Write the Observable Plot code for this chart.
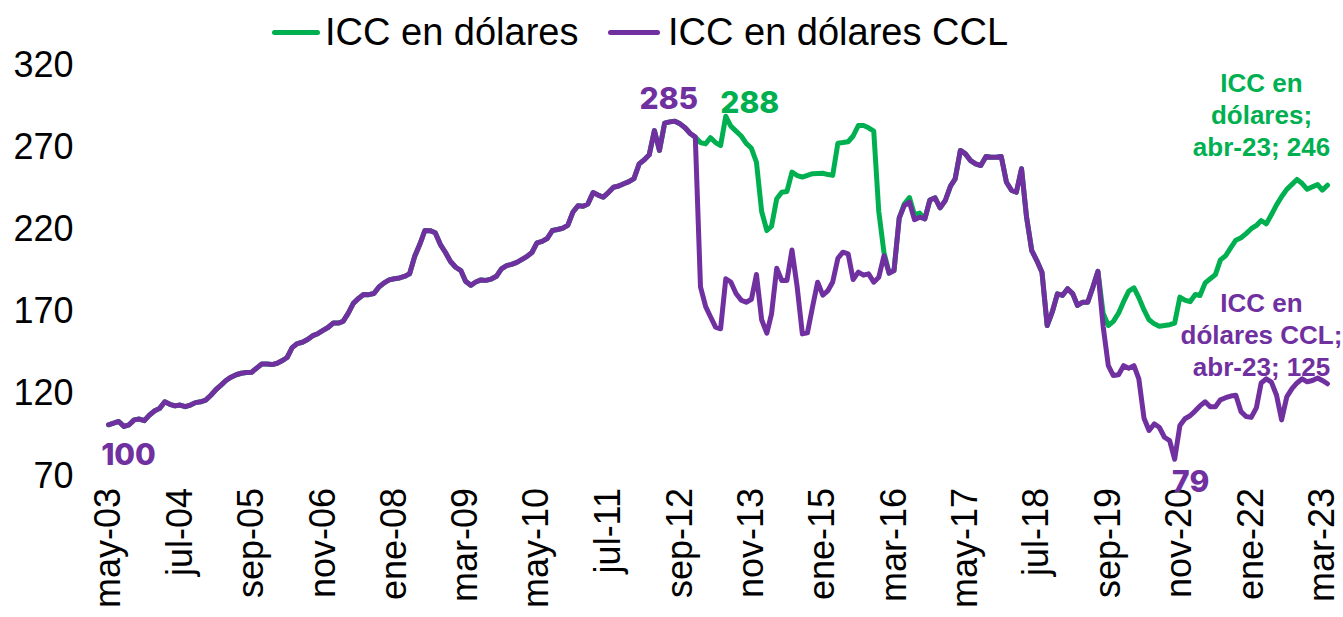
<!DOCTYPE html>
<html><head><meta charset="utf-8">
<script src="https://cdn.jsdelivr.net/npm/d3@7"></script>
<script src="https://cdn.jsdelivr.net/npm/@observablehq/plot@0.6"></script>
<style>
body{margin:0;background:#fff;font-family:"Liberation Sans",Arial,sans-serif;}
#legend{position:relative;width:1343px;height:50px;}
.item{position:absolute;top:12px;height:40px;display:flex;align-items:center;font-size:38px;color:#000;white-space:nowrap;}
.sw{display:inline-block;height:5px;border-radius:3px;}
</style></head><body>
<div id="legend"></div>
<div id="chart"></div>
<script>
// Series: ICC en dólares CCL (monthly, may-03 .. abr-23)
const iccCCL = [
 100,101,102,99,100,103,103.5,102.5,106,108.5,110,114,
 112.5,111.5,112,111,112,113.5,114,115,118,121.5,124,127,
 129,130.5,131.4,131.8,132,134.5,137,137,136.7,137.5,139,141,
 147,149.5,150.3,152,154.3,155.5,157.5,159.3,162,162,163,168,
 174,177,179.4,179.3,180,184,186.5,188.3,189,189.5,190.4,192,
 202.5,210,218.4,218.3,217,210,205,199.5,196,194,187.5,185,
 187,188.3,188,188.8,190.5,195,197,197.8,199,200.8,202.5,205,
 210.9,211.8,213.5,218.4,219,219.8,221.5,229.5,233.5,233.2,234.5,241.5,
 240,238.7,241.5,244.8,245.5,246.9,248.2,250,259,261.5,264.5,279.3,
 267.2,283.8,284.6,285,283.4,281,277.5,275.3,184,172,166,159.5,
 158.5,189,187,180,176,174.7,176.5,191.6,164,155.8,167.6,195.4,
 187.9,188,206.5,184,155.4,156,172,186.9,179,181.8,187,201.5,
 205.2,204.2,188.5,193,191.2,192,186.9,189.9,203,192.4,194,226,
 233.6,235.7,225,226.5,225.5,237,238.3,232.2,236.7,245.5,249.9,267.2,
 265.1,261,259,258,263.5,263,263,263.5,247.8,242.8,241.7,256,
 226.5,206.2,200.1,193,160.5,168.6,179.8,178.8,182.9,179.8,172.7,174.7,
 174.7,183.9,193.5,160,136,130,130.5,136,134.5,136,128,104,
 96.5,100.5,98.5,92.4,90.4,79,99.5,103.7,105.5,108.5,111.5,114,
 111,111,115.2,116.5,117.5,118,108,105,104.5,110.5,125.5,128,
 126,118,103,117,122,125.5,128,126.2,127,128.5,127,125
];
// Series: ICC en dólares (monthly, may-03 .. abr-23)
const iccUSD = [
 100,101,102,99,100,103,103.5,102.5,106,108.5,110,114,
 112.5,111.5,112,111,112,113.5,114,115,118,121.5,124,127,
 129,130.5,131.4,131.8,132,134.5,137,137,136.7,137.5,139,141,
 147,149.5,150.3,152,154.3,155.5,157.5,159.3,162,162,163,168,
 174,177,179.4,179.3,180,184,186.5,188.3,189,189.5,190.4,192,
 202.5,210,218.4,218.3,217,210,205,199.5,196,194,187.5,185,
 187,188.3,188,188.8,190.5,195,197,197.8,199,200.8,202.5,205,
 210.9,211.8,213.5,218.4,219,219.8,221.5,229.5,233.5,233.2,234.5,241.5,
 240,238.7,241.5,244.8,245.5,246.9,248.2,250,259,261.5,264.5,279.3,
 267.2,283.8,284.6,285,283.4,281,277.5,275.3,272,271.2,275,272,
 270.2,288,282,279,276,271.5,268.5,260,230,218.4,221,237.7,
 241.7,242.2,254,251.9,251,252,253,253.2,253.3,252.5,252,271.6,
 272,272.5,276,282.4,282.4,281,279,230,205,192.4,194,226,
 234.5,238.5,228,229,225.5,237,238.3,232.2,236.7,245.5,249.9,267.2,
 265.1,261,259,258,263.5,263,263,263.5,247.8,242.8,241.7,256,
 226.5,206.2,200.1,193,160.5,168.6,179.8,178.8,182.9,179.8,172.7,174.7,
 174.7,183.9,193.5,168,160.5,163,168,175,181.5,183.5,177.5,170,
 164,161.5,160,160.5,161,162,177.8,176,175,179.4,178.8,186.5,
 189,191.5,200.5,203,208,212.5,214,216.5,219.5,221.5,224.5,222.5,
 228,234,239,243.5,246.5,249.5,247,243.5,245,246.4,243,246
];
const tickLabels = ["may-03","jul-04","sep-05","nov-06","ene-08","mar-09","may-10","jul-11","sep-12",
  "nov-13","ene-15","mar-16","may-17","jul-18","sep-19","nov-20","ene-22","mar-23"];
const yTicks = [70,120,170,220,270,320];
const seriesNames = ["ICC en dólares","ICC en dólares CCL"];
const colors = ["#00B050","#7030A0"];

const startDate = new Date(Date.UTC(2003,4,1));
const months = d3.utcMonth.range(startDate, new Date(Date.UTC(2023,4,1)));
const tickDates = tickLabels.map((_, k) => d3.utcMonth.offset(startDate, 14*k));
const labelOf = new Map(tickDates.map((d,k)=>[+d, tickLabels[k]]));

const usdData = months.map((d,i)=>({date:d, value:iccUSD[i]}));
const cclData = months.map((d,i)=>({date:d, value:iccCCL[i]}));
const last = months.length - 1;

// legend
const legend = document.getElementById("legend");
[[272,48,5],[608,52,8]].forEach(([left,w,gap],k)=>{
  const it = document.createElement("div");
  it.className="item"; it.style.left=left+"px";
  it.innerHTML = `<span class="sw" style="width:${w}px;background:${colors[k]};margin-right:${gap}px"></span><span>${seriesNames[k]}</span>`;
  legend.appendChild(it);
});

const labelFont = "Inter, 'Noto Sans', sans-serif";
const chart = Plot.plot({
  width: 1343, height: 567,
  marginLeft: 108, marginRight: 16, marginTop: 13.3, marginBottom: 143.5,
  style: {fontFamily: "'Liberation Sans', Arial, sans-serif", color: "#000", background: "#fff", overflow: "visible"},
  x: {type: "utc", domain: [months[0], months[last]]},
  y: {domain: [70, 320]},
  marks: [
    Plot.axisY({ticks: yTicks, tickSize: 0, tickPadding: 35, fontSize: 36, dy: 2, label: null}),
    Plot.axisX({ticks: tickDates, tickFormat: d => labelOf.get(+d), tickSize: 0, tickPadding: 14, tickRotate: -90, fontSize: 36, label: null}),
    Plot.lineY(usdData, {x: "date", y: "value", stroke: colors[0], strokeWidth: 5}),
    Plot.lineY(cclData, {x: "date", y: "value", stroke: colors[1], strokeWidth: 5}),
    Plot.text([cclData[0]], {x: "date", y: "value", text: d => String(Math.round(d.value)), dx: 20, dy: 31, fill: colors[1], fontSize: 30, fontWeight: 800, fontFamily: labelFont}),
    Plot.text([cclData[111]], {x: "date", y: "value", text: d => String(Math.round(d.value)), dx: -6, dy: -22, fill: colors[1], fontSize: 30, fontWeight: 800, fontFamily: labelFont}),
    Plot.text([usdData[121]], {x: "date", y: "value", text: d => String(Math.round(d.value)), dx: 24, dy: -13, fill: colors[0], fontSize: 30, fontWeight: 800, fontFamily: labelFont}),
    Plot.text([cclData[209]], {x: "date", y: "value", text: d => String(Math.round(d.value)), dx: 16, dy: 23, fill: colors[1], fontSize: 30, fontWeight: 800, fontFamily: labelFont}),
    Plot.text([usdData[last]], {x: "date", y: "value", text: d => "ICC en\ndólares;\nabr-23; " + Math.round(d.value), dx: -66, dy: -71, lineHeight: 1.23, fill: colors[0], fontSize: 26, fontWeight: "bold"}),
    Plot.text([cclData[last]], {x: "date", y: "value", text: d => "ICC en\ndólares CCL;\nabr-23; " + Math.round(d.value), dx: -66, dy: -50, lineHeight: 1.23, fill: colors[1], fontSize: 26, fontWeight: "bold"})
  ]
});
document.getElementById("chart").appendChild(chart);
</script>
</body></html>
